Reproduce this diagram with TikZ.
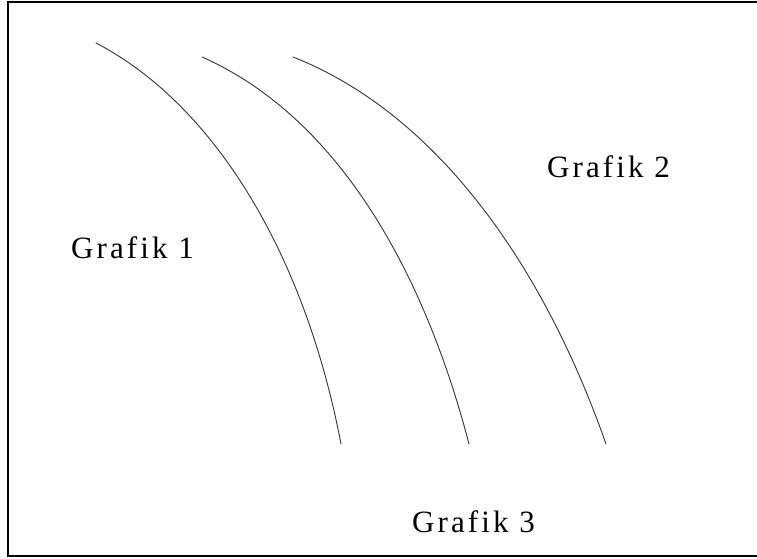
\documentclass[tikz,border=0pt]{standalone}
\usepackage{fontspec}
\setmainfont{Liberation Serif}
\newfontfamily\labelfont[LetterSpace=10]{Liberation Serif}
\begin{document}
\begin{tikzpicture}[x=1pt,y=-1pt,
  curve/.style={line width=0.9pt,draw=black!80,line cap=round},
  frame/.style={line width=2pt,draw=black},
  graphlabel/.style={anchor=base west,inner sep=0pt,font=\labelfont\fontsize{31}{33}\selectfont}]
  \useasboundingbox (0,0) rectangle (757,559);
  \clip (0,0) rectangle (757,559);
  % outer frame (right side runs off the page)
  \draw[frame] (8,2) rectangle (770,556);
  % the three curves
  \draw[curve] (96,43) .. controls (215,105) and (305,255) .. (341,444);
  \draw[curve] (202,57) .. controls (340,118) and (425,275) .. (469,444);
  \draw[curve] (293,57) .. controls (440,115) and (545,270) .. (606,444);
  % labels
  \node[graphlabel] (grafik1) at (71,258) {Grafik 1};
  \node[graphlabel] (grafik2) at (547,177) {Grafik 2};
  \node[graphlabel] (grafik3) at (412,532) {Grafik 3};
\end{tikzpicture}
\end{document}
